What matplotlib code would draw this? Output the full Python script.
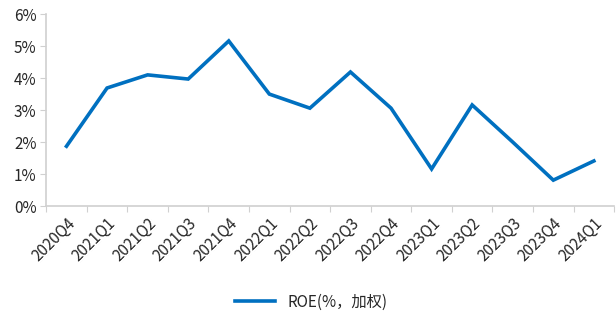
import matplotlib.pyplot as plt
from matplotlib.ticker import FuncFormatter

plt.rcParams['font.family'] = ['Noto Sans CJK SC', 'DejaVu Sans']

quarters = ["2020Q4", "2021Q1", "2021Q2", "2021Q3", "2021Q4", "2022Q1", "2022Q2",
            "2022Q3", "2022Q4", "2023Q1", "2023Q2", "2023Q3", "2023Q4", "2024Q1"]
roe = [1.87, 3.69, 4.10, 3.97, 5.16, 3.50, 3.06, 4.19, 3.06, 1.16, 3.16, 2.00, 0.81, 1.41]


def main():
    fig = plt.figure(figsize=(6.16, 3.2), dpi=100)
    ax = fig.add_axes([0.075, 0.356, 0.922, 0.600])

    x = range(len(quarters))
    ax.plot(x, roe, color="#0070C0", linewidth=2.6, label="ROE(%，加权)",
            solid_joinstyle="miter")

    ax.set_xlim(-0.5, len(quarters) - 0.5)
    ax.set_ylim(0, 6)
    ax.set_yticks(range(0, 7))
    ax.yaxis.set_major_formatter(FuncFormatter(lambda v, p: f"{int(v)}%"))

    # ticks between categories, labels at centers
    ax.set_xticks([i - 0.5 for i in range(len(quarters) + 1)])
    ax.set_xticklabels([])
    ax.set_xticks(list(x), minor=True)
    ax.set_xticklabels(quarters, minor=True, rotation=45, ha="right",
                       rotation_mode="anchor", fontsize=11, color="#262626")
    ax.tick_params(axis="x", which="minor", length=0, pad=6)
    ax.tick_params(axis="x", which="major", length=4, color="#d0d0d0")
    ax.tick_params(axis="y", length=4, color="#d0d0d0", labelsize=11,
                   labelcolor="#262626", pad=3)

    for s in ["top", "right"]:
        ax.spines[s].set_visible(False)
    for s in ["left", "bottom"]:
        ax.spines[s].set_color("#d0d0d0")
        ax.spines[s].set_linewidth(1.2)

    fig.legend(loc="center", bbox_to_anchor=(0.505, 0.056), frameon=False,
               fontsize=11, handlelength=2.6, labelcolor="#262626")

    fig.savefig("out.png", dpi=100)


if __name__ == '__main__':
    main()
